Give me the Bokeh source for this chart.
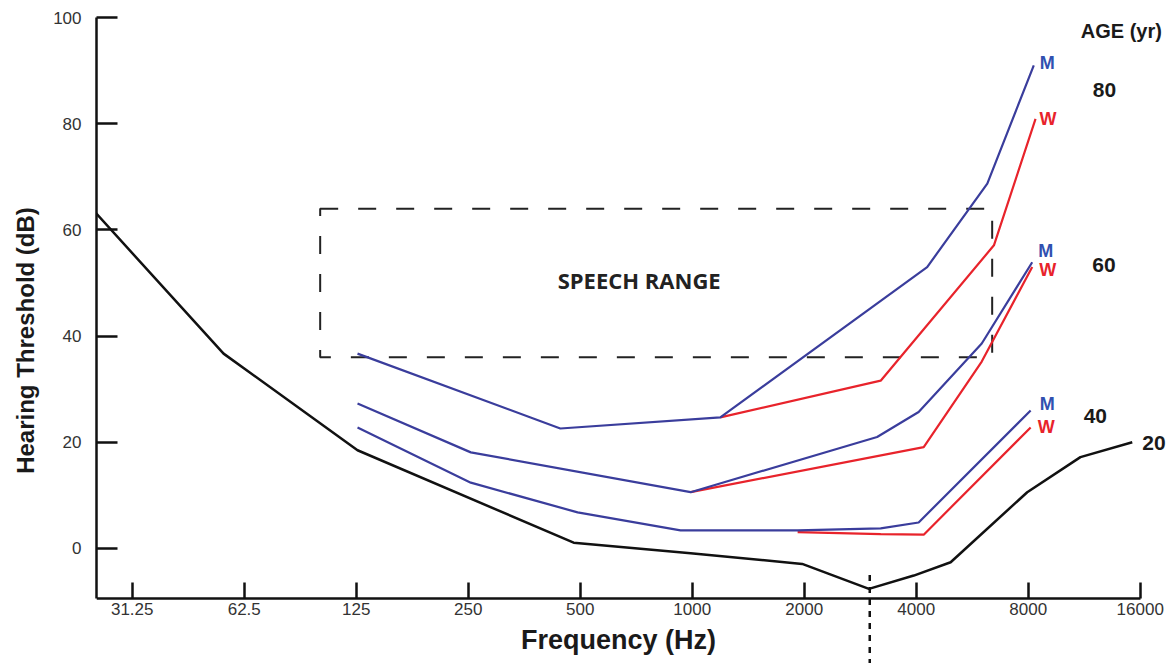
import math
from bokeh.plotting import figure
from bokeh.models import Range1d, FixedTicker
from bokeh.core.properties import value
from bokeh.embed import file_html
from bokeh.resources import INLINE

# ---------------- data ----------------
freq_ticks = [31.25, 62.5, 125, 250, 500, 1000, 2000, 4000, 8000, 16000]
freq_tick_labels = ["31.25", "62.5", "125", "250", "500", "1000", "2000", "4000", "8000", "16000"]
db_ticks = [0, 20, 40, 60, 80, 100]

# age 20 (black)
age20_freq = [25, 55, 126, 480, 990, 1975, 2985, 3940, 4950, 7950, 11050, 15230]
age20_db = [63.1, 36.7, 18.5, 1.1, -0.9, -2.9, -7.6, -5.1, -2.6, 10.6, 17.2, 20.0]

# age 40
men40_freq = [126, 254, 492, 930, 1920, 3210, 4060, 8120]
men40_db = [22.8, 12.4, 6.8, 3.4, 3.4, 3.8, 4.9, 26.0]
women40_freq = [1920, 3210, 4190, 8120]
women40_db = [3.1, 2.7, 2.6, 22.8]

# age 60
men60_freq = [126, 254, 990, 3140, 4060, 6000, 8200]
men60_db = [27.3, 18.1, 10.6, 21.0, 25.7, 38.6, 53.9]
women60_freq = [990, 4190, 6000, 8200]
women60_db = [10.6, 19.1, 35.2, 53.0]

# age 80
men80_freq = [126, 442, 1190, 4280, 6210, 8280]
men80_db = [36.7, 22.6, 24.7, 53.0, 68.7, 91.0]
women80_freq = [1190, 3210, 6470, 8370]
women80_db = [24.7, 31.6, 57.1, 80.9]

# speech range box
speech_freq = [100, 6400]
speech_db = [36, 64]

# vertical dotted marker
marker_freq = 3000
marker_db_top = -5.0

# ---------------- figure ----------------
Y_MIN, Y_MAX = -21.66, 100
AXIS_Y = -9.42
X_MIN, X_MAX = 25.05, 19780

p = figure(width=1174, height=663, x_axis_type="log",
           x_range=Range1d(X_MIN, X_MAX), y_range=Range1d(Y_MIN, Y_MAX),
           output_backend="svg", toolbar_location=None,
           min_border_left=96, min_border_right=0, min_border_top=17, min_border_bottom=0)
p.outline_line_color = None
p.grid.visible = False
p.background_fill_color = "white"
p.border_fill_color = "white"

FONT = "Liberation Sans"

# x axis
xa = p.xaxis[0]
xa.fixed_location = AXIS_Y
xa.bounds = (X_MIN, freq_ticks[-1])
xa.ticker = FixedTicker(ticks=freq_ticks)
xa.major_label_overrides = {t: l for t, l in zip(freq_ticks, freq_tick_labels)}
xa.major_tick_in = 16
xa.major_tick_out = 0
xa.minor_tick_line_color = None
xa.axis_line_width = 2.5
xa.major_tick_line_width = 2.5
xa.axis_line_color = "#111111"
xa.major_tick_line_color = "#111111"
xa.major_label_text_font = FONT
xa.major_label_text_font_size = "17px"
xa.major_label_text_color = "#333333"
xa.major_label_standoff = 4
xa.axis_label = "Frequency (Hz)"
xa.axis_label_text_font = FONT
xa.axis_label_text_font_size = "27px"
xa.axis_label_text_font_style = "bold"
xa.axis_label_text_color = "#1a1a1a"
xa.axis_label_standoff = 7

# y axis
ya = p.yaxis[0]
ya.bounds = (AXIS_Y, Y_MAX)
ya.ticker = FixedTicker(ticks=db_ticks)
ya.major_tick_in = 21
ya.major_tick_out = 0
ya.minor_tick_line_color = None
ya.axis_line_width = 2.5
ya.major_tick_line_width = 2.5
ya.axis_line_color = "#111111"
ya.major_tick_line_color = "#111111"
ya.major_label_text_font = FONT
ya.major_label_text_font_size = "17px"
ya.major_label_text_color = "#333333"
ya.major_label_standoff = 15
ya.axis_label = "Hearing Threshold (dB)"
ya.axis_label_text_font = FONT
ya.axis_label_text_font_size = "24px"
ya.axis_label_text_font_style = "bold"
ya.axis_label_text_color = "#1a1a1a"
ya.axis_label_standoff = 11

BLUE = "#3a3d9c"
RED = "#e8232b"
BLACK = "#111111"

# speech range box
p.quad(left=[speech_freq[0]], right=[speech_freq[1]], bottom=[speech_db[0]], top=[speech_db[1]],
       fill_color=None, line_color="#222222", line_width=2, line_dash="18 20")
p.text(x=[math.sqrt(speech_freq[0] * speech_freq[1])], y=[sum(speech_db) / 2], text=["SPEECH RANGE"],
       x_offset=-17, y_offset=-3, text_font=value("Open Sans"), text_font_size="22px",
       text_font_style="bold", text_color="#222222", text_align="center", text_baseline="middle")

# dotted marker below the minimum
p.segment(x0=[marker_freq], y0=[marker_db_top], x1=[marker_freq], y1=[Y_MIN],
          line_color=BLACK, line_width=2.5, line_dash="6 6")

# curves
p.line(age20_freq, age20_db, line_color=BLACK, line_width=2.5)
for fx, dbv, col in [(women40_freq, women40_db, RED), (men40_freq, men40_db, BLUE),
                     (women60_freq, women60_db, RED), (men60_freq, men60_db, BLUE),
                     (women80_freq, women80_db, RED), (men80_freq, men80_db, BLUE)]:
    p.line(fx, dbv, line_color=col, line_width=2.2)


def end_text(x, y, txt, color, dx, dy, size):
    p.text(x=[x], y=[y], text=[txt], x_offset=dx, y_offset=dy,
           text_font=value(FONT), text_font_size=size, text_font_style="bold",
           text_color=color, text_align="left", text_baseline="middle")


MW_SIZE = "18px"
end_text(men80_freq[-1], men80_db[-1], "M", "#3050b0", 6, -2, MW_SIZE)
end_text(women80_freq[-1], women80_db[-1], "W", RED, 4, 0, MW_SIZE)
end_text(men60_freq[-1], men60_db[-1], "M", "#3050b0", 6, -11, MW_SIZE)
end_text(women60_freq[-1], women60_db[-1], "W", RED, 7, 3, MW_SIZE)
end_text(men40_freq[-1], men40_db[-1], "M", "#3050b0", 9, -6, MW_SIZE)
end_text(women40_freq[-1], women40_db[-1], "W", RED, 7, 0, MW_SIZE)

AGE_SIZE = "21px"
end_text(men80_freq[-1], (men80_db[-1] + women80_db[-1]) / 2, "80", "#1a1a1a", 59, -2, AGE_SIZE)
end_text(men60_freq[-1], (men60_db[-1] + women60_db[-1]) / 2, "60", "#1a1a1a", 60, 0, AGE_SIZE)
end_text(men40_freq[-1], (men40_db[-1] + women40_db[-1]) / 2, "40", "#1a1a1a", 53, -3, AGE_SIZE)
end_text(age20_freq[-1], age20_db[-1], "20", "#1a1a1a", 10, 1, AGE_SIZE)
end_text(men80_freq[-1], Y_MAX, "AGE (yr)", "#1a1a1a", 47, 13, "20px")

open("out.html", "w").write(file_html(p, INLINE))
